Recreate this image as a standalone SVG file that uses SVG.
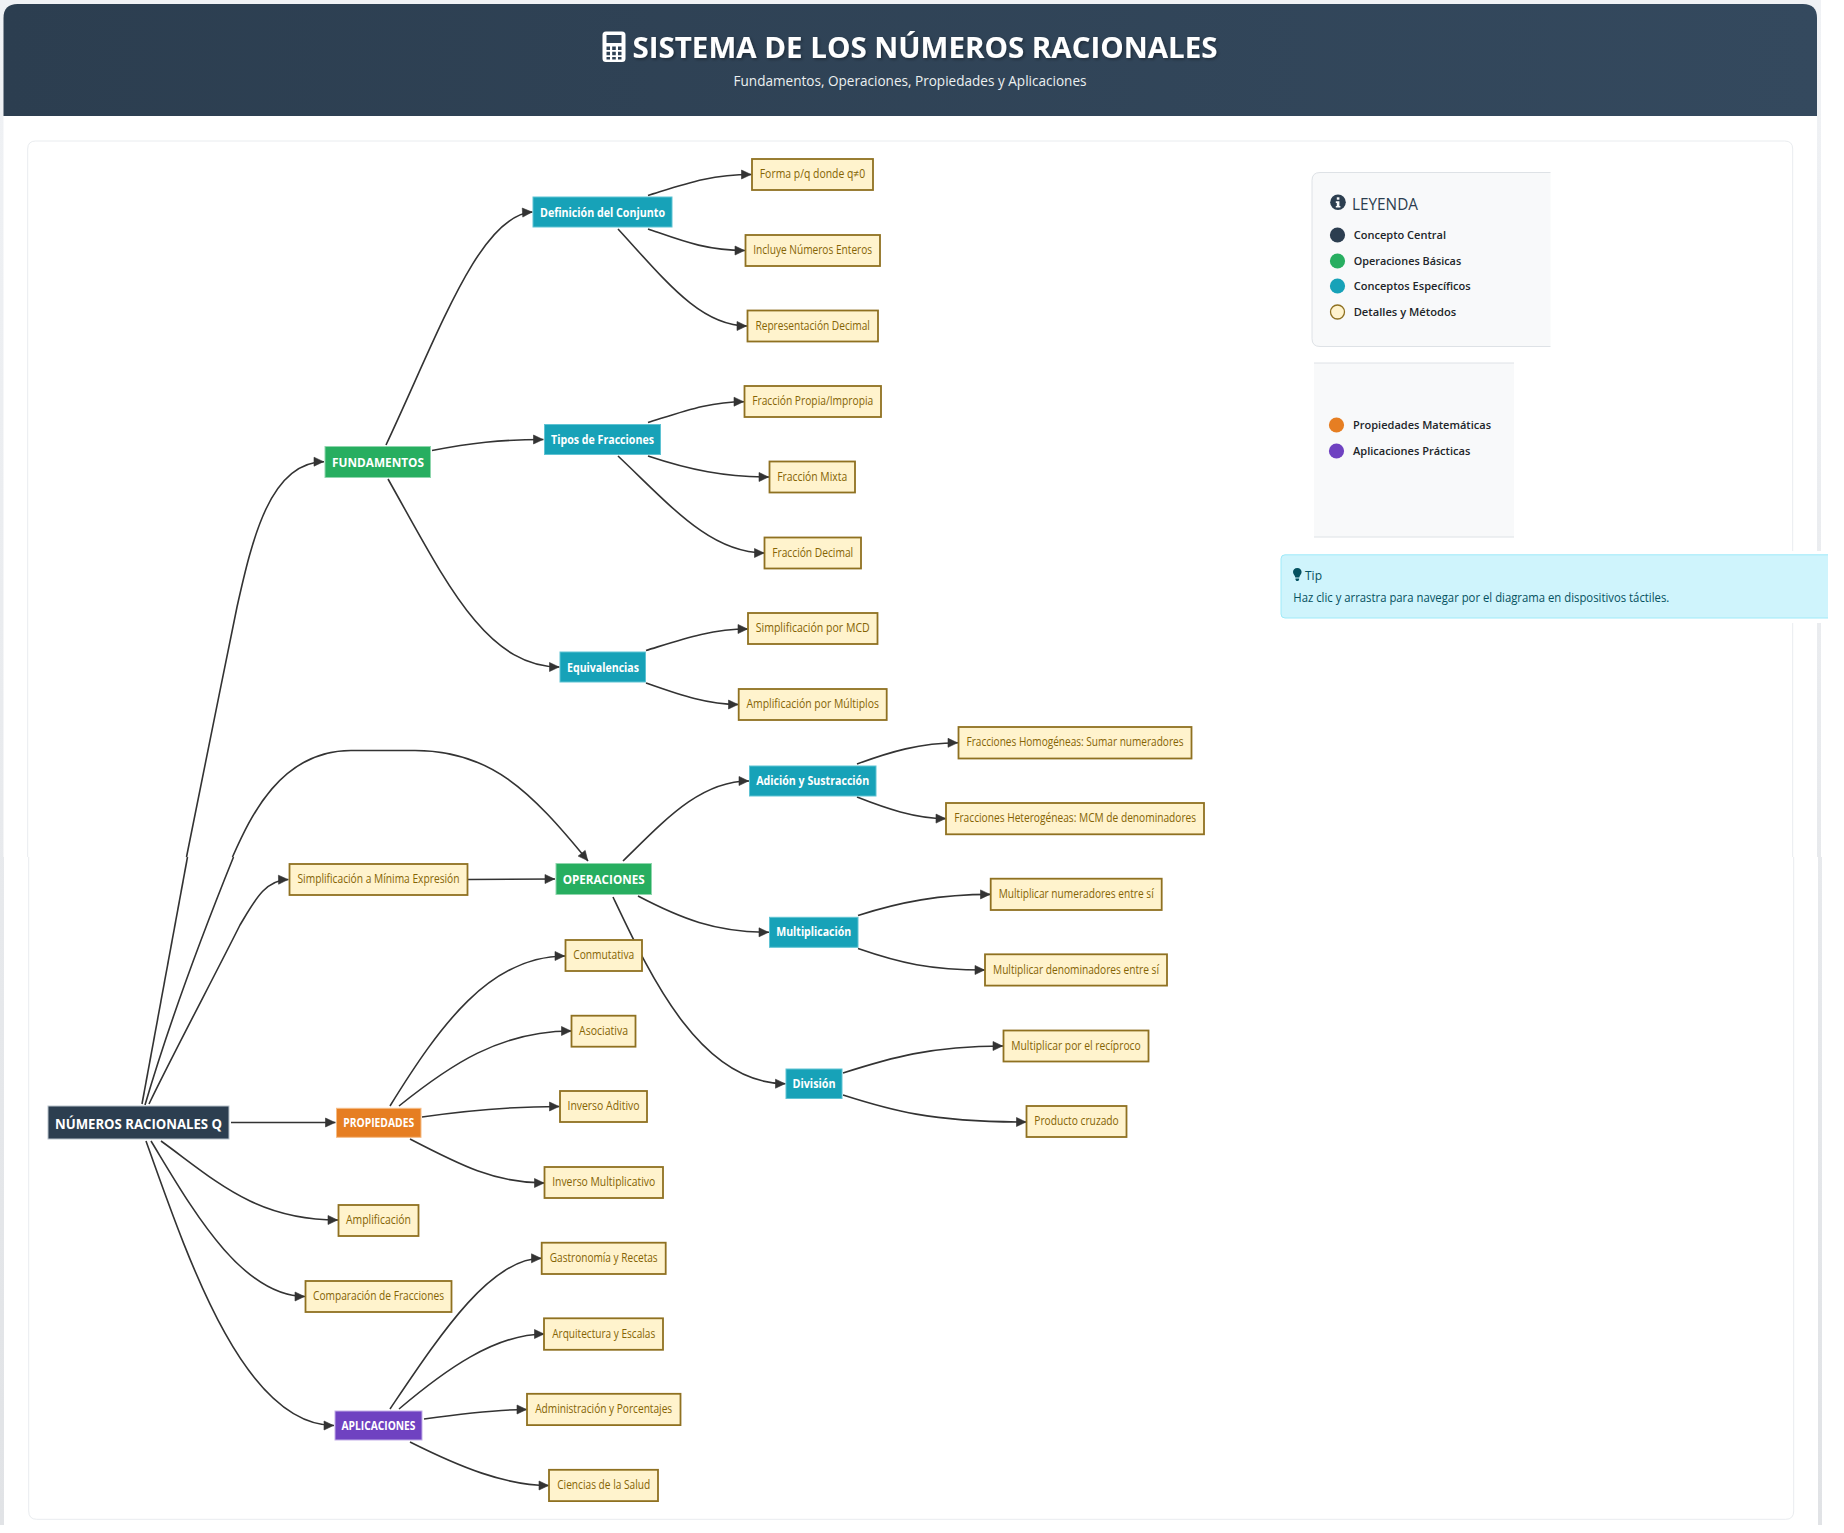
<svg xmlns="http://www.w3.org/2000/svg" width="1844" height="1533" viewBox="0 0 1844 1533">
<style>
text{font-family:"Open Sans","Noto Sans","Liberation Sans",sans-serif;text-anchor:middle}
.c{fill:none;stroke:#333;stroke-width:1.6;marker-end:url(#ah)}
.s{fill:none;stroke:#333;stroke-width:1.6}
.d rect{fill:#fff3cd;stroke:#8f7121;stroke-width:1.8}
.d text{fill:#856404;font-size:11.9px}
.t rect{fill:#17a2b8;stroke:#5fc3d3;stroke-width:1}
.t text,.m text{fill:#fff;font-size:12.3px;font-weight:700}
.l{font-size:11.3px;font-weight:600;fill:#212529;text-anchor:start}
</style>
<defs>
<marker id="ah" markerUnits="userSpaceOnUse" markerWidth="13" markerHeight="12" refX="11" refY="5.5" orient="auto"><path d="M1,1L10.5,5.5L1,10Z" fill="#333" stroke="#333" stroke-width=".6"/></marker>
<linearGradient id="hg" x1="0" y1="0" x2="1" y2="0"><stop offset="0" stop-color="#2c3e50"/><stop offset="1" stop-color="#34495e"/></linearGradient>
<linearGradient id="bg" x1="0" y1="0" x2="0" y2="1"><stop offset="0" stop-color="#f0f2f5"/><stop offset="1" stop-color="#e1e3e6"/></linearGradient>
<filter id="ts" x="-5%" y="-30%" width="110%" height="170%"><feDropShadow dx="1.5" dy="1.5" stdDeviation="1.5" flood-color="#000" flood-opacity=".35"/></filter>
</defs>
<rect width="1844" height="1533" fill="#fff"/>
<path d="M0,0H1821V857H1822V1525H0Z" fill="url(#bg)"/>
<path d="M3.5,116H1817V857H1818V1525H4V857H3.5Z" fill="#fff"/>
<path d="M3.5,116V18Q3.5,4 17.5,4H1803Q1817,4 1817,18V116Z" fill="url(#hg)"/>
<path d="M27.7,857V149Q27.7,141 35.7,141H1784.7Q1792.7,141 1792.7,149V857" fill="none" stroke="#e9ecef"/>
<path d="M28.7,857V1511Q28.7,1519.3 36.7,1519.3H1785.7Q1793.7,1519.3 1793.7,1511V857" fill="none" stroke="#e9ecef"/>
<g id="title">
<path fill-rule="evenodd" d="M606,31.5H622Q625.5,31.5 625.5,35V58.5Q625.5,62 622,62H606Q602.5,62 602.5,58.5V35Q602.5,31.5 606,31.5ZM606.5,35V43H621.5V35ZM606.5,46.5V50H610V46.5ZM612.2,46.5V50H615.8V46.5ZM618,46.5V50H621.5V46.5ZM606.5,51.8V55.2H610V51.8ZM612.2,51.8V55.2H615.8V51.8ZM618,51.8V55.2H621.5V51.8ZM606.5,57V59.5H610V57ZM612.2,57V59.5H615.8V57ZM618,57V59.5H621.5V57Z" fill="#fff"/>
<text x="925" y="58" font-size="28.4" font-weight="700" fill="#fff" textLength="585" lengthAdjust="spacingAndGlyphs" filter="url(#ts)">SISTEMA DE LOS NÚMEROS RACIONALES</text>
<text x="910" y="86" font-size="14" fill="#ecf0f1" textLength="353" lengthAdjust="spacingAndGlyphs">Fundamentos, Operaciones, Propiedades y Aplicaciones</text>
</g>
<g id="connectors">
<path class="s" d="M142,1104L187.5,857"/>
<path class="c" d="M186.5,857C200,790 220,690 237,607C252,540 270,461.7 324,461.7"/>
<path class="s" d="M145,1105C170,1020 200,940 233.5,857"/>
<path class="c" d="M232.5,857C250,818 280,750.5 351,750.5L415,750.5C490,750.5 530,790 588,861"/>
<path class="c" d="M149,1104C170,1060 215,975 240,925C255,900 265,880 288.5,879.5"/>
<path class="c" d="M468,879.5L555,879"/>
<path class="c" d="M231,1122.5L335.5,1122.5"/>
<path class="c" d="M161,1141C215,1180 255,1220 338,1220"/>
<path class="c" d="M151,1141C190,1205 240,1296.5 305,1296.5"/>
<path class="c" d="M146,1141C190,1265 245,1425.5 334,1425.5"/>
<path class="c" d="M386,445C440,330 480,215 532.5,212"/>
<path class="c" d="M432,450.5C470,443 500,439.5 543.5,439.5"/>
<path class="c" d="M388,479C445,580 485,667 559.5,667"/>
<path class="c" d="M648,195.5C685,184 710,174.5 751.5,174.5"/>
<path class="c" d="M648,229C680,240 705,250.5 745,250.5"/>
<path class="c" d="M618,229C665,280 700,326 747,326"/>
<path class="c" d="M648,422.5C685,411 710,401.7 744,401.7"/>
<path class="c" d="M648,456C690,470 725,477 769,477"/>
<path class="c" d="M618,456C670,505 710,553 764.5,553"/>
<path class="c" d="M646,650.5C680,640 710,629 748,629"/>
<path class="c" d="M646,683C675,693 705,704.5 738.5,704.5"/>
<path class="c" d="M623,861C665,820 700,781 749,781"/>
<path class="c" d="M638,896C680,918 715,932.3 769,932.3"/>
<path class="c" d="M613,897C650,975 700,1083.7 785.5,1083.7"/>
<path class="c" d="M857,764C890,752 920,742.8 958,742.8"/>
<path class="c" d="M857,797C885,808 915,818.6 946,818.6"/>
<path class="c" d="M858,915.5C900,902 940,894.4 990.5,894.4"/>
<path class="c" d="M858,948.5C900,963 930,970 985,970"/>
<path class="c" d="M843,1073C890,1058 930,1046 1003,1046"/>
<path class="c" d="M843,1095C890,1110 930,1122 1026.5,1122"/>
<path class="c" d="M390,1106C440,1025 490,956 565,956"/>
<path class="c" d="M399,1106C450,1065 500,1031 571.5,1031"/>
<path class="c" d="M422,1117C470,1110 510,1106.5 559.5,1106.5"/>
<path class="c" d="M410,1139C460,1165 495,1183 544.5,1183"/>
<path class="c" d="M390,1409C440,1335 490,1258.3 541.5,1258.3"/>
<path class="c" d="M399,1409C445,1370 495,1334 544.5,1334"/>
<path class="c" d="M424,1419C460,1414 495,1409.5 527,1409.5"/>
<path class="c" d="M410,1442C460,1467 505,1485.5 549,1485.5"/>
</g>
<g id="root"><rect x="48" y="1106" width="181" height="33" fill="#2c3e50" stroke="#b9c3cc"/><text x="138.5" y="1129.4" fill="#fff" font-size="14.4" font-weight="700" textLength="167" lengthAdjust="spacingAndGlyphs">NÚMEROS RACIONALES Q</text></g>
<g id="fundamentos" class="m"><rect x="325" y="446.5" width="105.5" height="31" fill="#27ae60" stroke="#8fd6ad"/><text x="378" y="466.7" textLength="92" lengthAdjust="spacingAndGlyphs">FUNDAMENTOS</text></g>
<g id="operaciones" class="m"><rect x="556" y="863.5" width="95.5" height="31" fill="#27ae60" stroke="#8fd6ad"/><text x="603.7" y="883.9" textLength="82" lengthAdjust="spacingAndGlyphs">OPERACIONES</text></g>
<g id="propiedades" class="m"><rect x="336.5" y="1108.3" width="84.5" height="29" fill="#e67e22" stroke="#f5bc85"/><text x="378.7" y="1127" textLength="71" lengthAdjust="spacingAndGlyphs">PROPIEDADES</text></g>
<g id="aplicaciones" class="m"><rect x="335" y="1411" width="87" height="29" fill="#6f42c1" stroke="#c3aee8"/><text x="378.5" y="1430" textLength="74" lengthAdjust="spacingAndGlyphs">APLICACIONES</text></g>
<g id="n-simp" class="d"><rect x="289.5" y="864" width="178" height="31"/><text x="378.5" y="883.2" textLength="162" lengthAdjust="spacingAndGlyphs">Simplificación a Mínima Expresión</text></g>
<g id="n-amp" class="d"><rect x="338.5" y="1205" width="80" height="31"/><text x="378.5" y="1224.2" textLength="65" lengthAdjust="spacingAndGlyphs">Amplificación</text></g>
<g id="n-comp" class="d"><rect x="305.5" y="1281" width="146" height="31"/><text x="378.5" y="1300.2" textLength="131" lengthAdjust="spacingAndGlyphs">Comparación de Fracciones</text></g>
<g id="n-def" class="t"><rect x="533" y="197" width="139" height="30"/><text x="602.5" y="216.9" textLength="125" lengthAdjust="spacingAndGlyphs">Definición del Conjunto</text></g>
<g id="n-tip" class="t"><rect x="544.5" y="424.5" width="116" height="30"/><text x="602.5" y="444.2" textLength="103" lengthAdjust="spacingAndGlyphs">Tipos de Fracciones</text></g>
<g id="n-equ" class="t"><rect x="560" y="652" width="85.5" height="30"/><text x="603" y="671.6" textLength="72" lengthAdjust="spacingAndGlyphs">Equivalencias</text></g>
<g id="n-adi" class="t"><rect x="749.5" y="766" width="126.5" height="30"/><text x="812.7" y="784.8" textLength="113" lengthAdjust="spacingAndGlyphs">Adición y Sustracción</text></g>
<g id="n-mul" class="t"><rect x="769.5" y="917.3" width="88.5" height="30"/><text x="813.7" y="936.4" textLength="75" lengthAdjust="spacingAndGlyphs">Multiplicación</text></g>
<g id="n-div" class="t"><rect x="786" y="1069" width="56" height="29.5"/><text x="814" y="1088.2" textLength="43" lengthAdjust="spacingAndGlyphs">División</text></g>
<g id="d1" class="d"><rect x="752" y="159" width="121" height="31"/><text x="812.5" y="178" textLength="105.5" lengthAdjust="spacingAndGlyphs">Forma p/q donde q≠0</text></g>
<g id="d2" class="d"><rect x="745.5" y="235" width="134.5" height="31"/><text x="812.7" y="254.2" textLength="119" lengthAdjust="spacingAndGlyphs">Incluye Números Enteros</text></g>
<g id="d3" class="d"><rect x="747.5" y="310.5" width="130.5" height="31"/><text x="812.7" y="329.7" textLength="114.5" lengthAdjust="spacingAndGlyphs">Representación Decimal</text></g>
<g id="d4" class="d"><rect x="744.5" y="386" width="136.5" height="31"/><text x="812.7" y="405.2" textLength="121" lengthAdjust="spacingAndGlyphs">Fracción Propia/Impropia</text></g>
<g id="d5" class="d"><rect x="769.5" y="461.5" width="85.5" height="31"/><text x="812.2" y="480.7" textLength="70" lengthAdjust="spacingAndGlyphs">Fracción Mixta</text></g>
<g id="d6" class="d"><rect x="764.5" y="537.5" width="96.5" height="31"/><text x="812.7" y="556.7" textLength="81" lengthAdjust="spacingAndGlyphs">Fracción Decimal</text></g>
<g id="d7" class="d"><rect x="748" y="613" width="129.5" height="31"/><text x="812.7" y="632.2" textLength="114" lengthAdjust="spacingAndGlyphs">Simplificación por MCD</text></g>
<g id="d8" class="d"><rect x="738.7" y="689" width="148" height="31"/><text x="812.7" y="708.2" textLength="132.5" lengthAdjust="spacingAndGlyphs">Amplificación por Múltiplos</text></g>
<g id="d9" class="d"><rect x="958.5" y="727" width="233" height="31.5"/><text x="1075" y="746.2" textLength="217" lengthAdjust="spacingAndGlyphs">Fracciones Homogéneas: Sumar numeradores</text></g>
<g id="d10" class="d"><rect x="946" y="803" width="258" height="31.3"/><text x="1075.2" y="822.2" textLength="242" lengthAdjust="spacingAndGlyphs">Fracciones Heterogéneas: MCM de denominadores</text></g>
<g id="d11" class="d"><rect x="990.7" y="878.7" width="171" height="31.3"/><text x="1076.2" y="898" textLength="155" lengthAdjust="spacingAndGlyphs">Multiplicar numeradores entre sí</text></g>
<g id="d12" class="d"><rect x="985" y="954.3" width="182" height="31.3"/><text x="1076" y="973.6" textLength="166" lengthAdjust="spacingAndGlyphs">Multiplicar denominadores entre sí</text></g>
<g id="d13" class="d"><rect x="1003.5" y="1030.5" width="145" height="31"/><text x="1076" y="1049.7" textLength="129.5" lengthAdjust="spacingAndGlyphs">Multiplicar por el recíproco</text></g>
<g id="d14" class="d"><rect x="1026.5" y="1106" width="100" height="31"/><text x="1076.5" y="1125.2" textLength="84.5" lengthAdjust="spacingAndGlyphs">Producto cruzado</text></g>
<g id="d15" class="d"><rect x="565.5" y="940" width="76.5" height="31"/><text x="603.7" y="959.2" textLength="61" lengthAdjust="spacingAndGlyphs">Conmutativa</text></g>
<g id="d16" class="d"><rect x="571.5" y="1015.7" width="64" height="31"/><text x="603.5" y="1034.7" textLength="49" lengthAdjust="spacingAndGlyphs">Asociativa</text></g>
<g id="d17" class="d"><rect x="560" y="1091" width="87" height="31"/><text x="603.5" y="1110.2" textLength="72" lengthAdjust="spacingAndGlyphs">Inverso Aditivo</text></g>
<g id="d18" class="d"><rect x="544.5" y="1167" width="118.5" height="31"/><text x="603.7" y="1186.2" textLength="103" lengthAdjust="spacingAndGlyphs">Inverso Multiplicativo</text></g>
<g id="d19" class="d"><rect x="541.7" y="1242.7" width="124" height="31.3"/><text x="603.7" y="1262" textLength="108" lengthAdjust="spacingAndGlyphs">Gastronomía y Recetas</text></g>
<g id="d20" class="d"><rect x="544" y="1318.3" width="119" height="31.5"/><text x="603.7" y="1337.7" textLength="103" lengthAdjust="spacingAndGlyphs">Arquitectura y Escalas</text></g>
<g id="d21" class="d"><rect x="527" y="1393.8" width="153.5" height="31.3"/><text x="603.7" y="1413.2" textLength="137" lengthAdjust="spacingAndGlyphs">Administración y Porcentajes</text></g>
<g id="d22" class="d"><rect x="549" y="1469.8" width="109" height="31.3"/><text x="603.7" y="1489" textLength="93" lengthAdjust="spacingAndGlyphs">Ciencias de la Salud</text></g>
<g id="legend">
<path d="M1550.5,172.5H1320Q1312,172.5 1312,180.5V338.5Q1312,346.5 1320,346.5H1550.5Z" fill="#f8f9fa"/>
<path d="M1550.5,172.5H1320Q1312,172.5 1312,180.5V338.5Q1312,346.5 1320,346.5H1550.5" fill="none" stroke="#dee2e6"/>
<circle cx="1338" cy="202.3" r="7.8" fill="#2c3e50"/>
<rect x="1336.8" y="197.3" width="2.6" height="2.4" fill="#f8f9fa"/><path d="M1335.8,201.3H1339.4V205.9H1340.4V207.6H1335.8V205.9H1336.8V203H1335.8Z" fill="#f8f9fa"/>
<text x="1385" y="209.5" font-size="15.4" fill="#2c3e50" textLength="66" lengthAdjust="spacingAndGlyphs">LEYENDA</text>
<circle cx="1337.5" cy="235" r="7.6" fill="#2c3e50"/><text class="l" x="1353.7" y="239.2" textLength="92.4" lengthAdjust="spacingAndGlyphs">Concepto Central</text>
<circle cx="1337.5" cy="261" r="7.6" fill="#27ae60"/><text class="l" x="1353.7" y="265.2" textLength="107.5" lengthAdjust="spacingAndGlyphs">Operaciones Básicas</text>
<circle cx="1337.5" cy="286" r="7.6" fill="#17a2b8"/><text class="l" x="1353.7" y="290.2" textLength="117" lengthAdjust="spacingAndGlyphs">Conceptos Específicos</text>
<circle cx="1337.5" cy="312" r="7" fill="#fff3cd" stroke="#8f7121" stroke-width="1.3"/><text class="l" x="1353.7" y="316.2" textLength="102.5" lengthAdjust="spacingAndGlyphs">Detalles y Métodos</text>
</g>
<g id="legend2">
<rect x="1314" y="363" width="200" height="174" fill="#f8f9fa"/>
<path d="M1314,363H1514M1314,537H1514" fill="none" stroke="#dee2e6"/>
<circle cx="1336.5" cy="425" r="7.6" fill="#e67e22"/><text class="l" x="1353" y="429.4" textLength="138" lengthAdjust="spacingAndGlyphs">Propiedades Matemáticas</text>
<circle cx="1336.5" cy="451" r="7.6" fill="#6f42c1"/><text class="l" x="1353" y="455.4" textLength="117.3" lengthAdjust="spacingAndGlyphs">Aplicaciones Prácticas</text>
</g>
<g id="tip">
<rect x="1700" y="551" width="128" height="72" fill="#fff"/>
<path d="M1828,554.8H1285Q1281,554.8 1281,558.8V614Q1281,618 1285,618H1828Z" fill="#cff4fc"/>
<path d="M1828,554.8H1285Q1281,554.8 1281,558.8V614Q1281,618 1285,618H1828" fill="none" stroke="#9eeaf9"/>
<path d="M1297.3,568C1294.6,568 1293,570 1293,572C1293,574.4 1295,575.3 1295.3,577.5H1299.3C1299.6,575.3 1301.6,574.4 1301.6,572C1301.6,570 1300,568 1297.3,568ZM1295.5,578.4H1299.1V579.8L1298.2,581H1296.4L1295.5,579.8Z" fill="#055160"/>
<text x="1313.5" y="579.5" font-size="12.2" font-weight="500" fill="#055160" textLength="17" lengthAdjust="spacingAndGlyphs">Tip</text>
<text x="1481.3" y="601.6" font-size="11.7" fill="#055160" textLength="376" lengthAdjust="spacingAndGlyphs">Haz clic y arrastra para navegar por el diagrama en dispositivos táctiles.</text>
</g>
</svg>
